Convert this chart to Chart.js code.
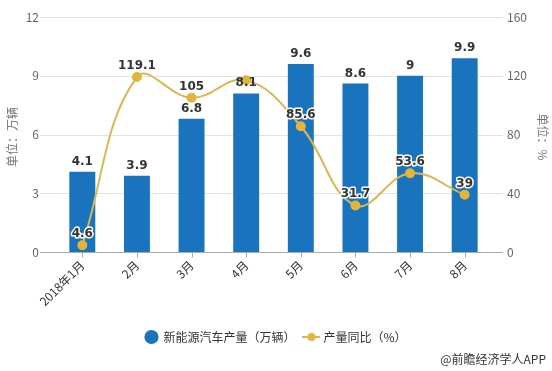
<!DOCTYPE html>
<html>
<head>
<meta charset="utf-8">
<script src="https://cdn.jsdelivr.net/npm/chart.js@4.4.0/dist/chart.umd.min.js"></script>
<style>
  html, body { margin: 0; padding: 0; background: #fff; }
  #wrap { width: 552px; height: 371px; }
</style>
</head>
<body>
<div id="wrap"><canvas id="chart" width="552" height="371"></canvas></div>
<script>
// data
const months = ['2018年1月', '2月', '3月', '4月', '5月', '6月', '7月', '8月'];
const output = [4.1, 3.9, 6.8, 8.1, 9.6, 8.6, 9, 9.9];
const growth = [4.6, 119.1, 105, 117, 85.6, 31.7, 53.6, 39];
// april's growth label is hidden under the bar label in the original
const growthLabels = ['4.6', '119.1', '105', '', '85.6', '31.7', '53.6', '39'];
const leftTicks = [0, 3, 6, 9, 12];
const rightTicks = [0, 40, 80, 120, 160];

const BLUE = '#1a74bd';
const GOLD = '#e3b53c';
const LINE_GOLD = '#dcb653';
const FONT = '"Noto Sans CJK SC", "Noto Sans", sans-serif';

// legend icon for the line series: short line with a dot
function lineIcon() {
  let c = document.createElement('canvas');
  c.width = 18; c.height = 10;
  let g = c.getContext('2d');
  g.strokeStyle = LINE_GOLD; g.lineWidth = 2;
  g.beginPath(); g.moveTo(0, 5); g.lineTo(18, 5); g.stroke();
  g.fillStyle = GOLD;
  g.beginPath(); g.arc(9, 5, 4, 0, Math.PI * 2); g.fill();
  return c;
}

const extras = {
  id: 'extras',
  beforeDatasetsDraw(chart) {
    const ctx = chart.ctx;
    const yL = chart.scales.y;
    const xs = chart.scales.x;
    const left = chart.chartArea.left - 15, right = chart.chartArea.right + 11;
    ctx.save();
    // gridlines, wider than the category area
    ctx.strokeStyle = '#e3e3e3';
    ctx.lineWidth = 1;
    leftTicks.forEach(v => {
      if (v === 0) return;
      let y = Math.round(yL.getPixelForValue(v)) + 0.5;
      ctx.beginPath(); ctx.moveTo(left, y); ctx.lineTo(right, y); ctx.stroke();
    });
    // baseline + ticks
    let by = Math.round(yL.getPixelForValue(0)) + 0.5;
    ctx.strokeStyle = '#aaa';
    ctx.beginPath(); ctx.moveTo(left, by); ctx.lineTo(right, by); ctx.stroke();
    months.forEach((m, i) => {
      let x = Math.round(xs.getPixelForValue(i)) + 0.5;
      ctx.beginPath(); ctx.moveTo(x, by); ctx.lineTo(x, by + 5); ctx.stroke();
    });
    ctx.restore();
  },
  afterDatasetsDraw(chart) {
    const ctx = chart.ctx;
    ctx.save();
    ctx.font = 'bold 12px "DejaVu Sans", sans-serif';
    ctx.textAlign = 'center';
    ctx.textBaseline = 'alphabetic';
    // bar labels
    chart.getDatasetMeta(0).data.forEach((bar, i) => {
      ctx.fillStyle = '#333';
      ctx.fillText(String(output[i]), bar.x, bar.y - 7);
    });
    // line labels with white halo
    chart.getDatasetMeta(1).data.forEach((pt, i) => {
      if (!growthLabels[i]) return;
      ctx.lineWidth = 3;
      ctx.strokeStyle = '#fff';
      ctx.lineJoin = 'round';
      ctx.strokeText(growthLabels[i], pt.x, pt.y - 8);
      ctx.fillStyle = '#333';
      ctx.fillText(growthLabels[i], pt.x, pt.y - 8);
    });
    // axis titles
    ctx.font = '12px ' + FONT;
    ctx.fillStyle = '#777';
    ctx.textBaseline = 'middle';
    ctx.save();
    ctx.translate(12, 137);
    ctx.rotate(-Math.PI / 2);
    ctx.fillText('单位：万辆', 0, 0);
    ctx.restore();
    ctx.save();
    ctx.translate(543, 137);
    ctx.rotate(Math.PI / 2);
    ctx.fillText('单位：%', 0, 0);
    ctx.restore();
    // source
    ctx.font = '12px ' + FONT;
    ctx.fillStyle = '#333';
    ctx.textAlign = 'right';
    ctx.fillText('@前瞻经济学人APP', 546, 359);
    ctx.restore();
  }
};

new Chart(document.getElementById('chart').getContext('2d'), {
  data: {
    labels: months,
    datasets: [
      {
        type: 'bar',
        label: '新能源汽车产量（万辆）',
        data: output,
        backgroundColor: BLUE,
        yAxisID: 'y',
        categoryPercentage: 1,
        barPercentage: 0.475,
        order: 2
      },
      {
        type: 'line',
        label: '产量同比（%）',
        data: growth,
        borderColor: LINE_GOLD,
        backgroundColor: GOLD,
        pointBackgroundColor: GOLD,
        pointBorderColor: GOLD,
        pointRadius: 4,
        borderWidth: 2,
        tension: 0.4,
        yAxisID: 'y1',
        pointStyle: 'circle',
        order: 1
      }
    ]
  },
  options: {
    responsive: false,
    animation: false,
    layout: { padding: { top: 0, bottom: 18, left: 0, right: 0 } },
    plugins: {
      tooltip: { enabled: false },
      legend: {
        position: 'bottom',
        labels: {
          font: { family: FONT, size: 12 },
          color: '#333',
          padding: 10,
          boxHeight: 10,
          usePointStyle: true,
          generateLabels(chart) {
            return [
              { text: '新能源汽车产量（万辆）', fillStyle: BLUE, strokeStyle: BLUE, lineWidth: 0, pointStyle: 'circle', datasetIndex: 0, fontColor: '#333' },
              { text: '产量同比（%）', fillStyle: GOLD, strokeStyle: GOLD, lineWidth: 0, pointStyle: lineIcon(), datasetIndex: 1, fontColor: '#333' }
            ];
          }
        }
      }
    },
    scales: {
      x: {
        type: 'category',
        offset: true,
        grid: { display: false, drawTicks: false },
        border: { display: false },
        ticks: {
          color: '#333',
          font: { family: FONT, size: 12 },
          minRotation: 45,
          maxRotation: 45,
          padding: 6
        },
        afterFit(s) { s.height = 69; s.paddingTop = 0; }
      },
      y: {
        position: 'left',
        min: 0, max: 12,
        afterBuildTicks(s) { s.ticks = leftTicks.map(v => ({ value: v })); },
        grid: { display: false, drawTicks: false },
        border: { display: false },
        ticks: { color: '#666', font: { family: FONT, size: 12 }, padding: 16 },
        afterFit(s) { s.width = 55; s.paddingTop = 17; s.paddingBottom = 0; }
      },
      y1: {
        position: 'right',
        min: 0, max: 160,
        afterBuildTicks(s) { s.ticks = rightTicks.map(v => ({ value: v })); },
        grid: { display: false, drawTicks: false },
        border: { display: false },
        ticks: { color: '#666', font: { family: FONT, size: 12 }, padding: 15 },
        afterFit(s) { s.width = 60; s.paddingTop = 17; s.paddingBottom = 0; }
      }
    }
  },
  plugins: [extras]
});
</script>
</body>
</html>
